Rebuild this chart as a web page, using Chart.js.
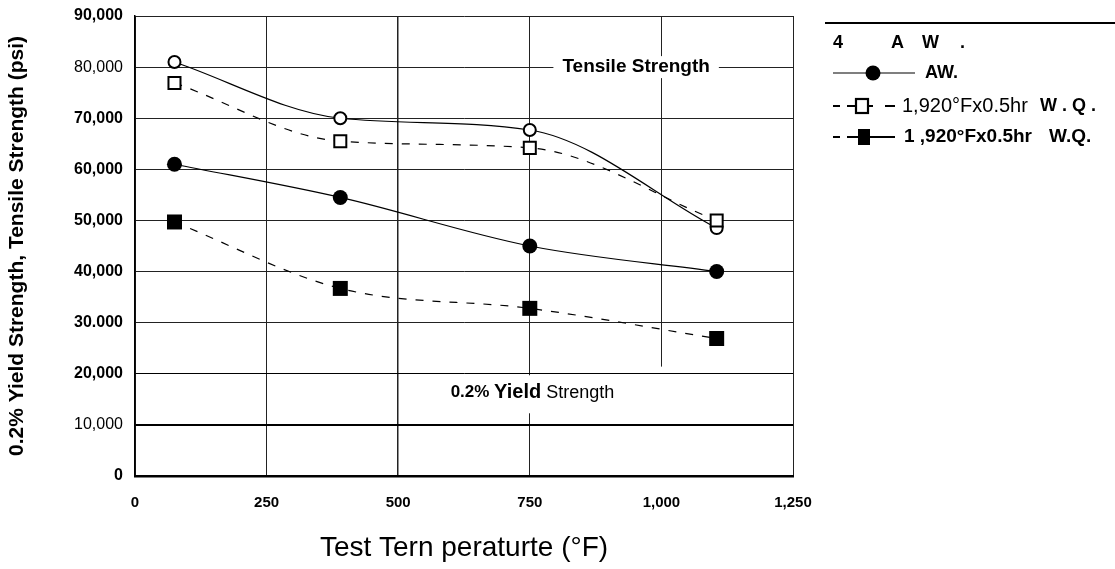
<!DOCTYPE html>
<html>
<head>
<meta charset="utf-8">
<script src="https://cdn.jsdelivr.net/npm/chart.js@4.4.1/dist/chart.umd.min.js"></script>
<style>
  html, body { margin: 0; padding: 0; background: #fff; }
  #wrap { width: 1115px; height: 569px; position: relative; }
</style>
</head>
<body>
<div id="wrap"><canvas id="c" width="1115" height="569"></canvas></div>
<script>
// ---- data ----
const tempsF      = [75, 390, 750, 1105];
const tensileAW   = [81000, 70000, 67700, 48500];
const tensileWQ   = [76900, 65500, 64200, 50000];
const yieldAW     = [61000, 54500, 45000, 40000];
const yieldWQ     = [49700, 36700, 32800, 26900];

const xTickValues = [0, 250, 500, 750, 1000, 1250];
const xTickLabels = ['0', '250', '500', '750', '1,000', '1,250'];
const yTickValues = [0, 10000, 20000, 30000, 40000, 50000, 60000, 70000, 80000, 90000];
const yTickLabels = ['0', '10,000', '20,000', '30.000', '40,000', '50,000', '60,000', '70,000', '80,000', '90,000'];

const seriesNames = ['AW.', '1,920°Fx0.5hr', '1 ,920°Fx0.5hr'];

const FONT = "'Liberation Sans', Arial, sans-serif";

function pts(xs, ys) { return xs.map((x, i) => ({ x: x, y: ys[i] })); }

const labelPlugin = {
  id: 'labels',
  beforeDatasetsDraw(chart) {
    const ctx = chart.ctx;
    const xs = chart.scales.x, ys = chart.scales.y;
    ctx.save();
    // partial gridline at 1,000 (ends above the 20,000 line in the reference)
    ctx.strokeStyle = '#222';
    ctx.lineWidth = 1;
    ctx.beginPath();
    const gx = Math.round(xs.getPixelForValue(1000)) + 0.5;
    ctx.moveTo(gx, ys.getPixelForValue(90000));
    ctx.lineTo(gx, ys.getPixelForValue(21400));
    ctx.stroke();

    // "Tensile Strength" label on the 80,000 line
    ctx.font = "bold 19px " + FONT;
    ctx.textBaseline = 'middle';
    ctx.textAlign = 'center';
    const tx = xs.getPixelForValue(952), ty = ys.getPixelForValue(80000);
    const tw = ctx.measureText('Tensile Strength').width;
    ctx.fillStyle = '#fff';
    ctx.fillRect(tx - tw / 2 - 9, ty - 11, tw + 18, 22);
    ctx.fillStyle = '#000';
    ctx.fillText('Tensile Strength', tx, ty);

    // "0.2% Yield Strength"
    const yx = xs.getPixelForValue(755), yy = ys.getPixelForValue(16300);
    const parts = [
      { t: '0.2% ', f: "bold 17px " + FONT },
      { t: 'Yield', f: "bold 20px " + FONT },
      { t: ' Strength', f: "18px " + FONT }
    ];
    let total = 0;
    parts.forEach(p => { ctx.font = p.f; p.w = ctx.measureText(p.t).width; total += p.w; });
    ctx.fillStyle = '#fff';
    ctx.fillRect(yx - total / 2 - 8, ys.getPixelForValue(20000) + 1.5, total + 16, 38);
    ctx.fillStyle = '#000';
    ctx.textAlign = 'left';
    let cx = yx - total / 2;
    parts.forEach(p => { ctx.font = p.f; ctx.fillText(p.t, cx, yy); cx += p.w; });
    ctx.restore();
  },
  afterDraw(chart) {
    const ctx = chart.ctx;
    ctx.save();
    ctx.strokeStyle = '#000';
    ctx.fillStyle = '#000';
    // top rule
    ctx.lineWidth = 2;
    ctx.beginPath(); ctx.moveTo(825, 23); ctx.lineTo(1115, 23); ctx.stroke();
    ctx.textBaseline = 'middle';
    ctx.textAlign = 'left';
    ctx.font = "bold 18px " + FONT;
    // header row
    ctx.fillText('4', 833, 43);
    ctx.fillText('A', 891, 43);
    ctx.fillText('W', 922, 43);
    ctx.fillText('.', 960, 43);

    ctx.lineWidth = 1.2;
    // row 1: solid + filled circle
    const r1 = 73;
    ctx.setLineDash([]);
    ctx.beginPath(); ctx.moveTo(833, r1); ctx.lineTo(915, r1); ctx.stroke();
    ctx.beginPath(); ctx.arc(873, r1, 7.5, 0, Math.PI * 2); ctx.fill();
    ctx.font = "bold 18px " + FONT;
    ctx.fillText(seriesNames[0], 925, r1);

    // row 2: dashed + open square
    const r2 = 106;
    ctx.lineWidth = 2;
    [[833, 840], [847, 856], [868, 873], [885, 895]].forEach(s => {
      ctx.beginPath(); ctx.moveTo(s[0], r2); ctx.lineTo(s[1], r2); ctx.stroke();
    });
    ctx.lineWidth = 2.2;
    ctx.strokeRect(856, r2 - 7, 12, 14);
    ctx.font = "20px " + FONT;
    ctx.fillText(seriesNames[1], 902, r2);
    ctx.font = "bold 18px " + FONT;
    ctx.fillText('W . Q .', 1040, r2);

    // row 3: dashed + filled square
    const r3 = 137;
    ctx.lineWidth = 2;
    [[833, 840], [847, 858], [870, 895]].forEach(s => {
      ctx.beginPath(); ctx.moveTo(s[0], r3); ctx.lineTo(s[1], r3); ctx.stroke();
    });
    ctx.fillRect(858, r3 - 8, 12, 16);
    ctx.font = "bold 19px " + FONT;
    ctx.fillText(seriesNames[2], 904, r3);
    ctx.fillText('W.Q.', 1049, r3);
    ctx.restore();
  }
};

const chart = new Chart(document.getElementById('c'), {
  type: 'line',
  data: {
    datasets: [
      { label: 'Tensile AW', data: pts(tempsF, tensileAW), order: 2,
        borderColor: '#000', borderWidth: 1.2, pointStyle: 'circle', pointRadius: 6,
        pointBorderWidth: 2, pointBackgroundColor: '#fff', pointBorderColor: '#000',
        cubicInterpolationMode: 'monotone', fill: false },
      { label: 'Tensile WQ', data: pts(tempsF, tensileWQ), order: 1,
        borderColor: '#000', borderWidth: 1.2, borderDash: [8, 9], pointStyle: 'rect', pointRadius: 8.5,
        pointBorderWidth: 2, pointBackgroundColor: '#fff', pointBorderColor: '#000',
        cubicInterpolationMode: 'monotone', fill: false },
      { label: 'Yield AW', data: pts(tempsF, yieldAW), order: 2,
        borderColor: '#000', borderWidth: 1.2, pointStyle: 'circle', pointRadius: 7.5,
        pointBorderWidth: 0, pointBackgroundColor: '#000', pointBorderColor: '#000',
        cubicInterpolationMode: 'monotone', fill: false },
      { label: 'Yield WQ', data: pts(tempsF, yieldWQ), order: 1,
        borderColor: '#000', borderWidth: 1.2, borderDash: [8, 9], pointStyle: 'rect', pointRadius: 10.6,
        pointBorderWidth: 0, pointBackgroundColor: '#000', pointBorderColor: '#000',
        cubicInterpolationMode: 'monotone', fill: false }
    ]
  },
  options: {
    responsive: false,
    animation: false,
    events: [],
    layout: { padding: { left: 0, right: 322, top: 16, bottom: 0 } },
    plugins: { legend: { display: false }, tooltip: { enabled: false } },
    scales: {
      x: {
        type: 'linear', min: 0, max: 1250,
        afterBuildTicks: s => { s.ticks = xTickValues.map(v => ({ value: v })); },
        afterFit: s => { s.height = 93; },
        ticks: {
          padding: 18, color: '#000',
          font: { family: FONT, size: 15, weight: 'bold' },
          callback: (v) => xTickLabels[xTickValues.indexOf(v)]
        },
        grid: {
          drawTicks: false,
          color: ctx => (ctx.tick && ctx.tick.value === 1000) ? 'rgba(0,0,0,0)' : '#222',
          lineWidth: ctx => (ctx.tick && ctx.tick.value === 500) ? 1.5 : 1
        },
        border: { color: '#000', width: 2.5 },
        title: {
          display: true, text: 'Test Tern peraturte (°F)', color: '#000',
          font: { family: FONT, size: 28, weight: 'normal' },
          padding: { top: 4, bottom: 4 }
        }
      },
      y: {
        type: 'linear', min: 0, max: 90000,
        afterBuildTicks: s => { s.ticks = yTickValues.map(v => ({ value: v })); },
        afterFit: s => { s.width = 135; s.paddingTop = 0; s.paddingBottom = 0; },
        ticks: {
          padding: 12, color: '#000',
          font: ctx => ({ family: FONT, size: 16,
            weight: (ctx.tick && (ctx.tick.value === 80000 || ctx.tick.value === 10000)) ? 'normal' : 'bold' }),
          callback: (v) => yTickLabels[yTickValues.indexOf(v)]
        },
        grid: {
          drawTicks: false,
          color: ctx => (ctx.tick && ctx.tick.value <= 20000) ? '#000' : '#222',
          lineWidth: ctx => (ctx.tick && (ctx.tick.value === 10000)) ? 2 : 1
        },
        border: { color: '#000', width: 1.5 },
        title: {
          display: true, text: '0.2% Yield Strength, Tensile Strength (psi)', color: '#000',
          font: { family: FONT, size: 21, weight: 'bold' },
          padding: { top: 5, bottom: 0 }
        }
      }
    }
  },
  plugins: [labelPlugin]
});
</script>
</body>
</html>
